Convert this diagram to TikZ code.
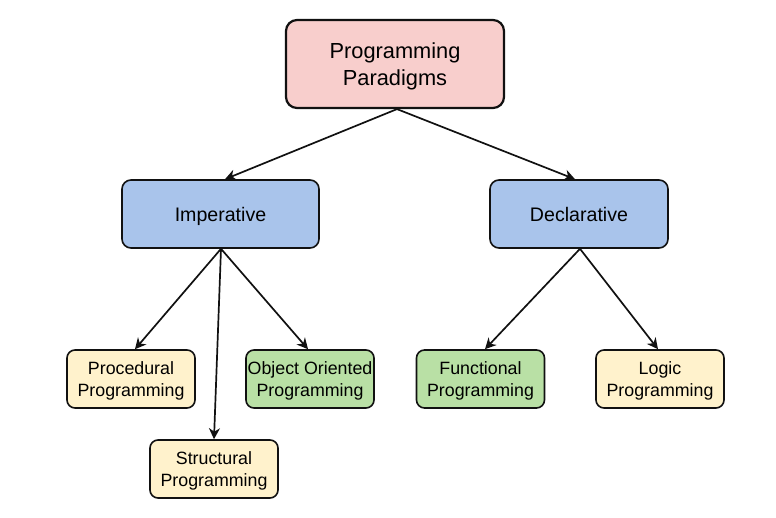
\documentclass[tikz,border=0pt]{standalone}
\usepackage{fontspec}
\setmainfont{Liberation Sans}
\usetikzlibrary{arrows.meta}
\definecolor{rootfill}{HTML}{F8CECC}
\definecolor{bluefill}{HTML}{A9C4EB}
\definecolor{greenfill}{HTML}{B9E0A5}
\definecolor{yellowfill}{HTML}{FFF2CC}
\definecolor{edgecol}{HTML}{111111}
\tikzset{
  box/.style={draw=edgecol, rounded corners=9pt, align=center, inner sep=0pt, text depth=0pt},
  rootbox/.style={box, fill=rootfill, line width=2.2pt, minimum width=218pt, minimum height=88pt,
     font=\fontsize{21.8}{26.7}\selectfont, rounded corners=11pt, text depth=-3pt},
  midbox/.style={box, fill=bluefill, line width=1.6pt, minimum height=68pt,
     font=\fontsize{19.6}{24}\selectfont},
  leafbox/.style={box, line width=1.6pt, minimum width=128pt, minimum height=58pt,
     font=\fontsize{17.8}{22.3}\selectfont, rounded corners=8pt},
  conn/.style={draw=edgecol, line width=1.7pt, -{Stealth[length=11pt,width=11pt,inset=3.5pt]}}
}
\begin{document}
\begin{tikzpicture}[x=1pt,y=-1pt]
\useasboundingbox (0,0) rectangle (776,518);
\node[rootbox] (root) at (395,64) {Programming\\Paradigms};
\node[midbox, minimum width=197pt] (imp) at (220.5,214) {Imperative};
\node[midbox, minimum width=178pt] (decl) at (579,214) {Declarative};
\node[leafbox, fill=yellowfill] (proc) at (131,379) {Procedural\\Programming};
\node[leafbox, fill=greenfill] (oo) at (310,379) {Object Oriented\\Programming};
\node[leafbox, fill=yellowfill] (struct) at (214,469) {Structural\\Programming};
\node[leafbox, fill=greenfill] (func) at (480.5,379) {Functional\\Programming};
\node[leafbox, fill=yellowfill] (logic) at (660,379) {Logic\\Programming};
\draw[conn] ([xshift=2pt]root.south) -- ([xshift=4.5pt]imp.north);
\draw[conn] ([xshift=2pt]root.south) -- ([xshift=-4pt]decl.north);
\draw[conn] ([xshift=0.5pt]imp.south) -- ([xshift=4pt]proc.north);
\draw[conn] ([xshift=0.5pt]imp.south) -- (struct.north);
\draw[conn] ([xshift=0.5pt]imp.south) -- ([xshift=-2pt]oo.north);
\draw[conn] ([xshift=1pt]decl.south) -- ([xshift=4.5pt]func.north);
\draw[conn] ([xshift=1pt]decl.south) -- ([xshift=-2pt]logic.north);
\end{tikzpicture}
\end{document}
